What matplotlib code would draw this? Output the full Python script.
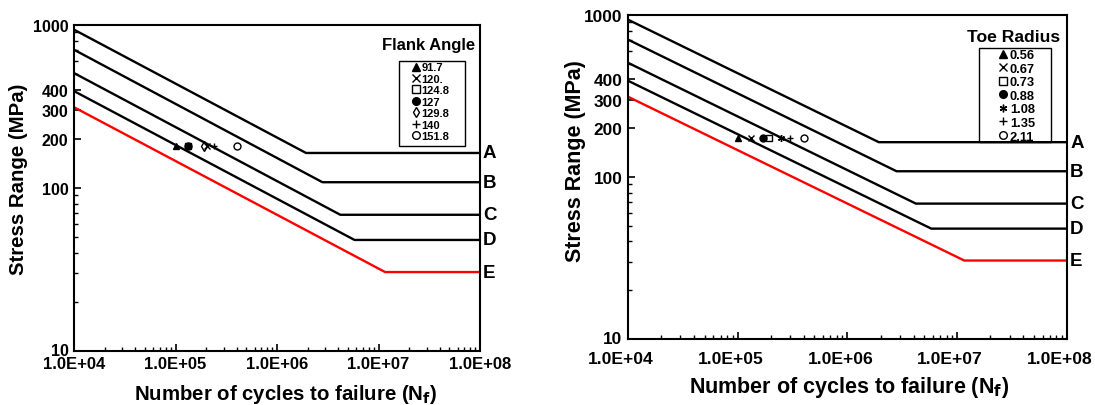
import numpy as np
import matplotlib.pyplot as plt
from matplotlib.patches import Rectangle
from matplotlib.ticker import FixedLocator, NullFormatter
from matplotlib.transforms import blended_transform_factory, ScaledTranslation

plt.rcParams['font.family'] = ['Liberation Sans', 'DejaVu Sans']
plt.rcParams['font.weight'] = 'bold'

# S-N design curves (cycles, stress range MPa): start, knee, end
categories = ["A", "B", "C", "D", "E"]
curve_n = [[1e4, 1.93e6, 1e8],
           [1e4, 2.8e6, 1e8],
           [1e4, 4.2e6, 1e8],
           [1e4, 5.8e6, 1e8],
           [1e4, 1.16e7, 1e8]]
curve_s = [[936, 164, 164],
           [705, 108.5, 108.5],
           [507, 68.5, 68.5],
           [393, 48, 48],
           [313, 30.5, 30.5]]
curve_colors = ["black", "black", "black", "black", "red"]

# test points, left panel (flank angle)
flank_labels = ["91.7", "120.", "124.8", "127", "129.8", "140", "151.8"]
flank_n = [1.01e5, 2.06e5, 1.32e5, 1.32e5, 1.9e5, 2.4e5, 4.0e5]
flank_s = [180, 180, 180, 180, 180, 180, 180]

# test points, right panel (toe radius)
toe_labels = ["0.56", "0.67", "0.73", "0.88", "1.08", "1.35", "2.11"]
toe_n = [1.01e5, 1.31e5, 1.93e5, 1.7e5, 2.46e5, 3.0e5, 4.04e5]
toe_s = [174, 174, 174, 174, 174, 174, 174]

flank_markers = [dict(marker="^", mfc="black"), dict(marker="x", mfc="none"),
                 dict(marker="s", mfc="none"), dict(marker="o", mfc="black"),
                 dict(marker="d", mfc="none"), dict(marker="+", mfc="none"),
                 dict(marker="o", mfc="none")]
toe_markers = [dict(marker="^", mfc="black"), dict(marker="x", mfc="none"),
               dict(marker="s", mfc="none"), dict(marker="o", mfc="black"),
               dict(marker=(6, 2, 0), mfc="none"), dict(marker="+", mfc="none"),
               dict(marker="o", mfc="none")]


def draw_panel(fig, ax, pts_n, pts_s, labels, markers, title, st):
    for n, s, c in zip(curve_n, curve_s, curve_colors):
        ax.plot(n, s, color=c, lw=1.7, zorder=2)
    tr = blended_transform_factory(ax.transAxes, ax.transData)
    for cat, s in zip(categories, curve_s):
        ax.text(1.007, s[-1], cat, transform=tr, ha="left", va="center",
                fontsize=13.5, fontweight="bold", clip_on=False)
    handles = []
    for n, s, lab, m in zip(pts_n, pts_s, labels, markers):
        h, = ax.plot([n], [s], linestyle="none", color="black", mec="black",
                     ms=5, mew=1.0, label=lab, zorder=3, **m)
        handles.append(h)

    ax.set_xscale("log")
    ax.set_yscale("log")
    ax.set_xlim(1e4, 1e8)
    ax.set_ylim(10, 1000)
    ax.set_xticks([1e4, 1e5, 1e6, 1e7, 1e8])
    ax.set_xticklabels(["1.0E+04", "1.0E+05", "1.0E+06", "1.0E+07", "1.0E+08"])
    ax.set_yticks([10, 100, 200, 300, 400, 1000])
    ax.set_yticklabels(["10", "100", "200", "300", "400", "1000"])
    ymin = [20, 30, 40, 50, 60, 70, 80, 90, 500, 600, 700, 800, 900]
    ax.yaxis.set_minor_locator(FixedLocator(ymin))
    ax.yaxis.set_minor_formatter(NullFormatter())
    ax.tick_params(which="both", direction="in")
    ax.tick_params(axis="x", labelsize=st["xtick"], pad=st["xpad"])
    ax.tick_params(axis="y", labelsize=st["ytick"], pad=4)
    ax.tick_params(which="major", length=5, width=1.2)
    ax.tick_params(which="minor", length=3, width=1)
    xshift = ScaledTranslation(st["xshift"] / 100, 0, fig.dpi_scale_trans)
    for t in ax.get_xticklabels():
        t.set_fontweight("bold")
        t.set_transform(t.get_transform() + xshift)
    for t in ax.get_yticklabels():
        t.set_fontweight("bold")
    lift = ScaledTranslation(0, 2 / 100, fig.dpi_scale_trans)
    lab10 = ax.get_yticklabels()[0]
    lab10.set_transform(lab10.get_transform() + lift)
    for sp in ax.spines.values():
        sp.set_linewidth(1.5)

    ax.set_xlabel("Number of cycles to failure (N$_\\mathbf{f}$)",
                  fontsize=st["label"], fontweight="bold")
    ax.set_ylabel("Stress Range (MPa)", fontsize=st["label"], fontweight="bold")
    ax.xaxis.set_label_coords(*st["xl"])
    ax.yaxis.set_label_coords(*st["yl"])
    ax.xaxis.label.set_va("center")
    ax.yaxis.label.set_va("center")

    ax.legend(handles=handles, loc="upper left",
              bbox_to_anchor=st["leg"], handlelength=0.6, markerscale=1.1,
              handletextpad=0.25, labelspacing=st["lspace"], borderpad=0,
              borderaxespad=0, frameon=False,
              prop=dict(weight="bold", size=st["lsize"]))
    x0, y0, x1, y1 = st["box"]
    ax.add_patch(Rectangle((x0, y0), x1 - x0, y1 - y0, transform=ax.transAxes,
                           fill=False, edgecolor="black", lw=1.0, zorder=4))
    ax.text(st["title"][0], st["title"][1], title, transform=ax.transAxes,
            ha="center", va="center", fontsize=st["tsize"], fontweight="bold")


fig = plt.figure(figsize=(10.95, 4.06), dpi=100)
ax1 = fig.add_axes([0.0676, 0.133, 0.3708, 0.803])
ax2 = fig.add_axes([0.5735, 0.1626, 0.4009, 0.798])

left_style = dict(xtick=12, ytick=11.5, xpad=3.5, xshift=0, label=14.7,
                  xl=(0.521, -0.129), yl=(-0.136, 0.53),
                  leg=(0.833, 0.885), lspace=0.13, lsize=8,
                  box=(0.80, 0.629, 0.963, 0.89), title=(0.873, 0.939), tsize=12)
right_style = dict(xtick=12.6, ytick=12.4, xpad=9, xshift=-7, label=15.5,
                   xl=(0.5046, -0.1466), yl=(-0.12, 0.5515),
                   leg=(0.845, 0.895), lspace=0.12, lsize=9.3,
                   box=(0.80, 0.608, 0.9636, 0.898), title=(0.879, 0.935),
                   tsize=12.6)

draw_panel(fig, ax1, flank_n, flank_s, flank_labels, flank_markers,
           "Flank Angle", left_style)
draw_panel(fig, ax2, toe_n, toe_s, toe_labels, toe_markers,
           "Toe Radius", right_style)

plt.savefig("out.png", dpi=100)
plt.close()
